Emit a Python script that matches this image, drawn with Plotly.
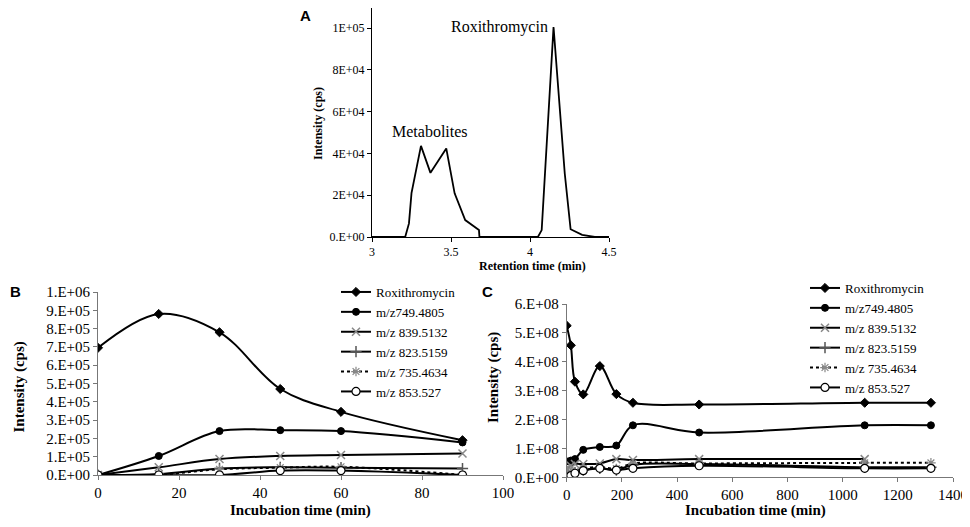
import plotly.graph_objects as go

# panel A - chromatogram
rt_min = [3.0, 3.14, 3.21, 3.234, 3.25, 3.31, 3.37, 3.47, 3.523, 3.59, 3.677, 3.68,
          4.05, 4.074, 4.149, 4.22, 4.257, 4.33, 4.41, 4.5]
rt_cps = [0, 0, 0, 6500, 21000, 43600, 30700, 42400, 20900, 8100, 3300, 0,
          0, 3300, 100500, 30400, 3700, 1000, 0, 0]
a_yticks = [0, 20000, 40000, 60000, 80000, 100000]
a_yticklabels = ["0.E+00", "2E+04", "4E+04", "6E+04", "8E+04", "1E+05"]

# panel B - short incubation
b_time = [0, 15, 30, 45, 60, 90]
b_roxi = [695000, 880000, 780000, 470000, 345000, 190000]
b_749 = [0, 104000, 240000, 245000, 240000, 178000]
b_839 = [0, 42000, 87000, 104000, 109000, 118000]
b_823 = [0, 5000, 36000, 42000, 40000, 35000]
b_735 = [0, 2000, 31000, 40000, 45000, 0]
b_853 = [0, 0, 0, 24000, 24000, 0]
b_yticks = [i * 100000 for i in range(11)]
b_yticklabels = ["0.E+00", "1.E+05", "2.E+05", "3.E+05", "4.E+05", "5.E+05",
                 "6.E+05", "7.E+05", "8.E+05", "9.E+05", "1.E+06"]

# panel C - long incubation
c_time = [0, 15, 30, 60, 120, 180, 240, 480, 1080, 1320]
c_roxi = [5.25e8, 4.57e8, 3.31e8, 2.87e8, 3.85e8, 2.88e8, 2.58e8, 2.52e8, 2.58e8, 2.58e8]
c_749 = [0.55e8, 0.58e8, 0.63e8, 0.95e8, 1.05e8, 1.1e8, 1.8e8, 1.55e8, 1.8e8, 1.8e8]
c_839 = [0.31e8, 0.4e8, 0.46e8, 0.46e8, 0.48e8, 0.63e8, 0.6e8, 0.63e8, 0.63e8, None]
c_823 = [0.08e8, 0.12e8, 0.16e8, 0.25e8, 0.31e8, 0.25e8, 0.43e8, 0.46e8, 0.35e8, 0.35e8]
c_735 = [0.2e8, 0.18e8, 0.2e8, 0.3e8, 0.36e8, 0.3e8, 0.48e8, 0.48e8, 0.5e8, 0.5e8]
c_853 = [0.0, 0.06e8, 0.14e8, 0.23e8, 0.31e8, 0.25e8, 0.31e8, 0.4e8, 0.31e8, 0.31e8]
c_yticks = [i * 1e8 for i in range(7)]
c_yticklabels = ["0.E+00", "1.E+08", "2.E+08", "3.E+08", "4.E+08", "5.E+08", "6.E+08"]

names = ["Roxithromycin", "m/z749.4805", "m/z 839.5132", "m/z 823.5159",
         "m/z 735.4634", "m/z 853.527"]

serif = "Liberation Serif"
sans = "Liberation Sans"

styles = [
    dict(symbol="diamond", size=7, color="black", line=dict(color="black", width=1)),
    dict(symbol="circle", size=7, color="black", line=dict(color="black", width=1)),
    dict(symbol="x-thin-open", size=8, color="#888888", line=dict(color="#888888", width=1.5)),
    dict(symbol="cross-thin-open", size=8, color="#555555", line=dict(color="#555555", width=1.5)),
    dict(symbol="asterisk-open", size=8, color="#888888", line=dict(color="#888888", width=1.2)),
    dict(symbol="circle", size=8, color="white", line=dict(color="black", width=1.2)),
]
dashes = ["solid", "solid", "solid", "solid", "dot", "solid"]

fig = go.Figure()

fig.add_trace(go.Scatter(x=rt_min, y=rt_cps, mode="lines", line=dict(color="black", width=1.8),
                         showlegend=False, xaxis="x", yaxis="y"))

for name, ys, mk, ds in zip(names, [b_roxi, b_749, b_839, b_823, b_735, b_853], styles, dashes):
    fig.add_trace(go.Scatter(x=b_time, y=ys, name=name, mode="lines+markers",
                             line=dict(color="black", width=2, shape="spline", dash=ds),
                             marker=mk, xaxis="x2", yaxis="y2", legend="legend"))

for name, ys, mk, ds in zip(names, [c_roxi, c_749, c_839, c_823, c_735, c_853], styles, dashes):
    fig.add_trace(go.Scatter(x=c_time, y=ys, name=name, mode="lines+markers",
                             line=dict(color="black", width=2, shape="spline", dash=ds),
                             marker=mk, xaxis="x3", yaxis="y3", legend="legend2"))

W, H = 970, 527
OFF = 8  # page body margin


def px(x):
    return min(1, max(0, (x - OFF) / W))


def py(y):
    return min(1, max(0, 1 - (y - OFF) / H))


axis_common = dict(showgrid=False, zeroline=False, showline=True, ticks="outside",
                   ticklen=4, automargin=False,
                   tickfont=dict(family=serif, size=15, color="black"))

fig.update_layout(
    template="none",
    width=W, height=H,
    margin=dict(l=0, r=0, t=0, b=0),
    plot_bgcolor="white", paper_bgcolor="white",
    font=dict(family=serif, color="black"),
    xaxis=dict(axis_common, domain=[px(372), px(609)], range=[3, 4.5], anchor="y",
               tickvals=[3, 3.5, 4, 4.5], linecolor="black", tickcolor="black",
               tickfont=dict(family=serif, size=12, color="black")),
    yaxis=dict(axis_common, domain=[py(237), py(8)], range=[0, 109600], anchor="x",
               tickvals=a_yticks, ticktext=a_yticklabels, linecolor="black", tickcolor="black",
               tickfont=dict(family=serif, size=12, color="black")),
    xaxis2=dict(axis_common, domain=[px(98), px(503)], range=[0, 100], anchor="y2",
                dtick=20, linecolor="#777777", tickcolor="#777777"),
    yaxis2=dict(axis_common, domain=[py(475), py(292)], range=[0, 1000000], anchor="x2",
                tickvals=b_yticks, ticktext=b_yticklabels, linecolor="#777777", tickcolor="#777777"),
    xaxis3=dict(axis_common, domain=[px(566.7), px(953)], range=[0, 1400], anchor="y3",
                dtick=200, linecolor="#777777", tickcolor="#777777"),
    yaxis3=dict(axis_common, domain=[py(477.3), py(304)], range=[0, 6e8], anchor="x3",
                tickvals=c_yticks, ticktext=c_yticklabels, linecolor="#777777", tickcolor="#777777"),
    legend=dict(x=px(336), y=py(277), xanchor="left", yanchor="top", bgcolor="rgba(0,0,0,0)",
                font=dict(family=serif, size=13, color="black"), tracegroupgap=0, itemwidth=30),
    legend2=dict(x=px(805), y=py(273), xanchor="left", yanchor="top", bgcolor="rgba(0,0,0,0)",
                 font=dict(family=serif, size=13, color="black"), tracegroupgap=0, itemwidth=30),
)

annots = [
    dict(text="<b>A</b>", x=px(305), y=py(16), font=dict(family=sans, size=15, color="black")),
    dict(text="<b>B</b>", x=px(8), y=py(291), xanchor="left", font=dict(family=sans, size=15, color="black")),
    dict(text="<b>C</b>", x=px(487), y=py(291), font=dict(family=sans, size=15, color="black")),
    dict(text="Roxithromycin", x=px(499), y=py(27), font=dict(family=serif, size=16, color="black")),
    dict(text="Metabolites", x=px(430), y=py(131), font=dict(family=serif, size=16, color="black")),
    dict(text="<b>Intensity (cps)</b>", x=px(318), y=py(124), textangle=-90,
         font=dict(family=serif, size=12, color="black")),
    dict(text="<b>Retention time (min)</b>", x=px(532), y=py(266),
         font=dict(family=serif, size=12, color="black")),
    dict(text="<b>Intensity (cps)</b>", x=px(8), y=py(387), textangle=-90, xanchor="left",
         font=dict(family=serif, size=15, color="black")),
    dict(text="<b>Incubation time (min)</b>", x=px(300), y=py(510),
         font=dict(family=serif, size=15, color="black")),
    dict(text="<b>Intensity (cps)</b>", x=px(494), y=py(378), textangle=-90,
         font=dict(family=serif, size=15, color="black")),
    dict(text="<b>Incubation time (min)</b>", x=px(755), y=py(510),
         font=dict(family=serif, size=15, color="black")),
]
for a in annots:
    a.setdefault("xanchor", "center")
    a.setdefault("yanchor", "middle")
    fig.add_annotation(xref="paper", yref="paper", showarrow=False, **a)

fig.write_html("out.html")
